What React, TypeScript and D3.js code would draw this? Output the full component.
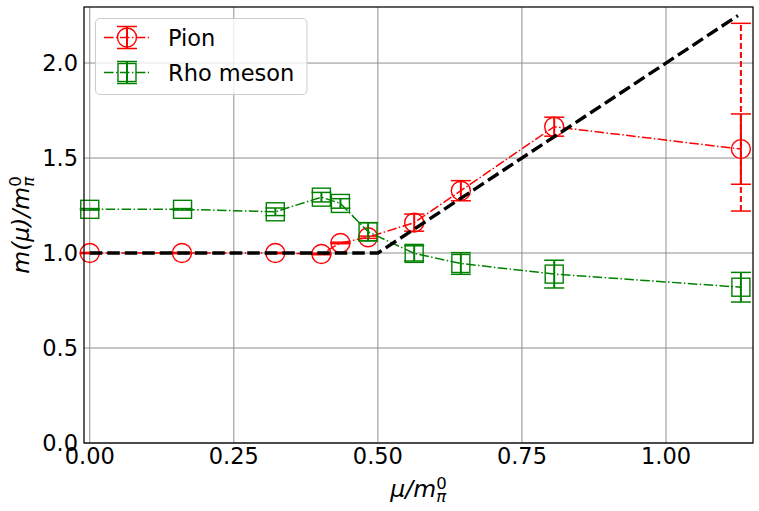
import React from 'react';
import * as d3 from 'd3';

// chemical potential values and masses
const pionMu = [0.0, 0.16, 0.322, 0.402, 0.435, 0.483, 0.563, 0.644, 0.806, 1.13];
const pionMass = [1.0, 1.0, 1.0, 0.995, 1.053, 1.083, 1.16, 1.328, 1.665, 1.547];
const pionErr = [0.003, 0.003, 0.003, 0.004, 0.004, 0.006, 0.045, 0.053, 0.05, 0.185];
// wide (dashed) error bar on the last pion point
const pionWideMu = [1.13];
const pionWideLow = [1.221];
const pionWideHigh = [2.209];

const rhoMu = [0.0, 0.161, 0.322, 0.402, 0.435, 0.483, 0.563, 0.644, 0.806, 1.13];
const rhoMass = [1.23, 1.23, 1.217, 1.294, 1.261, 1.112, 0.998, 0.945, 0.889, 0.82];
const rhoErr = [0.004, 0.004, 0.02, 0.025, 0.025, 0.048, 0.04, 0.057, 0.073, 0.078];

// reference curve m = max(1, 2 mu)
const refMu = [0.0, 0.5, 1.125];
const refMass = [1.0, 1.0, 2.25];

const xTicks = [0, 0.25, 0.5, 0.75, 1.0];
const yTicks = [0, 0.5, 1.0, 1.5, 2.0];

const seriesNames = ['Pion', 'Rho meson'];

const W = 759;
const H = 511;
const FONT = 'DejaVu Sans, sans-serif';
const RED = '#ff0000';
const GREEN = '#008000';
const DASHDOT = '9.6 2.4 1.5 2.4';

export default function App() {
  const x = d3.scaleLinear().domain([-0.01, 1.151]).range([84, 753]);
  const y = d3.scaleLinear().domain([0, 2.295]).range([443, 7]);
  const [left, right] = x.range();
  const [bottom, top] = y.range();

  const line = d3.line<[number, number]>()
    .x(d => x(d[0]))
    .y(d => y(d[1]));

  const pionPts = pionMu.map((m, i) => [m, pionMass[i]] as [number, number]);
  const rhoPts = rhoMu.map((m, i) => [m, rhoMass[i]] as [number, number]);
  const refPts = refMu.map((m, i) => [m, refMass[i]] as [number, number]);

  const cap = 10;

  const errBar = (cx: number, lo: number, hi: number, color: string, key: string, dash?: string) => (
    <g key={key} stroke={color} fill="none">
      <line x1={cx} x2={cx} y1={lo} y2={hi} strokeWidth={2} strokeDasharray={dash} />
      <line x1={cx - cap} x2={cx + cap} y1={lo} y2={lo} strokeWidth={1.5} />
      <line x1={cx - cap} x2={cx + cap} y1={hi} y2={hi} strokeWidth={1.5} />
    </g>
  );

  const circle = (cx: number, cy: number, key: string) => (
    <circle key={key} cx={cx} cy={cy} r={9.5} fill="none" stroke={RED} strokeWidth={1.4} />
  );
  const square = (cx: number, cy: number, key: string) => (
    <rect key={key} x={cx - 9} y={cy - 9} width={18} height={18} fill="none" stroke={GREEN} strokeWidth={1.4} />
  );

  return (
    <svg width={W} height={H} style={{ position: 'absolute', left: 0, top: 0, background: '#fff' }}>
      <rect width={W} height={H} fill="#fff" />
      {/* grid */}
      <g stroke="#8f8f8f" strokeWidth={1}>
        {xTicks.map(t => (
          <line key={'gx' + t} x1={x(t)} x2={x(t)} y1={top} y2={bottom} />
        ))}
        {yTicks.map(t => (
          <line key={'gy' + t} x1={left} x2={right} y1={y(t)} y2={y(t)} />
        ))}
      </g>

      {/* pion */}
      <path d={line(pionPts) ?? ''} fill="none" stroke={RED} strokeWidth={1.5} strokeDasharray={DASHDOT} />
      {pionPts.map((p, i) => circle(x(p[0]), y(p[1]), 'pc' + i))}
      {pionPts.map((p, i) =>
        errBar(x(p[0]), y(p[1] - pionErr[i]), y(p[1] + pionErr[i]), RED, 'pe' + i)
      )}
      {pionWideMu.map((m, i) =>
        errBar(x(m), y(pionWideLow[i]), y(pionWideHigh[i]), RED, 'pw' + i, '6 3')
      )}

      {/* rho */}
      <path d={line(rhoPts) ?? ''} fill="none" stroke={GREEN} strokeWidth={1.5} strokeDasharray={DASHDOT} />
      {rhoPts.map((p, i) => square(x(p[0]), y(p[1]), 'rs' + i))}
      {rhoPts.map((p, i) =>
        errBar(x(p[0]), y(p[1] - rhoErr[i]), y(p[1] + rhoErr[i]), GREEN, 're' + i)
      )}

      {/* reference curve */}
      <path d={line(refPts) ?? ''} fill="none" stroke="#000" strokeWidth={3.4} strokeDasharray="12.5 5" />

      {/* frame */}
      <rect x={left} y={top} width={right - left} height={bottom - top} fill="none" stroke="#000" strokeWidth={1.25} />

      {/* tick labels */}
      <g fontFamily={FONT} fontSize={22.5} fill="#000">
        {xTicks.map(t => (
          <text key={'tx' + t} x={x(t)} y={464} textAnchor="middle">{d3.format('.2f')(t)}</text>
        ))}
        {yTicks.map(t => (
          <text key={'ty' + t} x={78} y={y(t) + 8} textAnchor="end">{d3.format('.1f')(t)}</text>
        ))}
      </g>

      {/* axis labels */}
      <text x={(left + right) / 2} y={497} textAnchor="middle" fontFamily={FONT} fontSize={23.5} fontStyle="italic">
        μ/m
        <tspan fontSize={16.5} fontStyle="normal" dy={-8.5}>0</tspan>
        <tspan fontSize={16.5} dx={-10.5} dy={13}>π</tspan>
      </text>
      <text transform={`translate(29,${(top + bottom) / 2}) rotate(-90)`} textAnchor="middle" fontFamily={FONT} fontSize={23.5} fontStyle="italic">
        m(μ)/m
        <tspan fontSize={16.5} fontStyle="normal" dy={-8.5}>0</tspan>
        <tspan fontSize={16.5} dx={-10.5} dy={13}>π</tspan>
      </text>

      {/* legend */}
      <g>
        <rect x={95.5} y={18.5} width={211.5} height={76} rx={4.4} fill="#fff" fillOpacity={0.8} stroke="#cccccc" strokeWidth={1} />
        {seriesNames.map((name, i) => {
          const cy = 37.5 + i * 35;
          const color = i === 0 ? RED : GREEN;
          return (
            <g key={name}>
              <line x1={104} x2={149} y1={cy} y2={cy} stroke={color} strokeWidth={1.5} strokeDasharray={DASHDOT} />
              {i === 0 ? circle(127, cy, 'lc') : square(127, cy, 'ls')}
              {errBar(127, cy + 11, cy - 11, color, 'le' + i)}
              <text x={168} y={cy + 8.5} fontFamily={FONT} fontSize={22.5} fill="#000">{name}</text>
            </g>
          );
        })}
      </g>
    </svg>
  );
}
